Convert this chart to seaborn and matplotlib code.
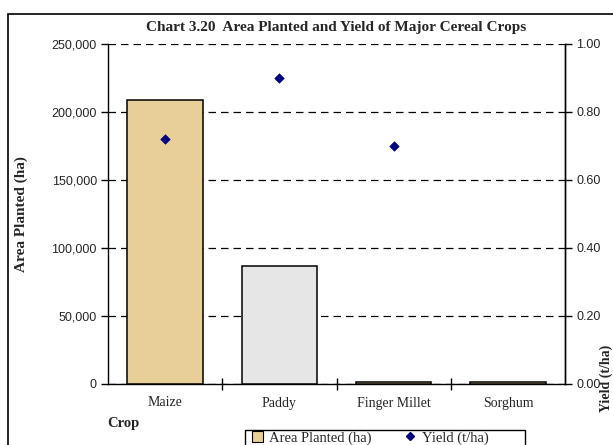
import numpy as np
import pandas as pd
import matplotlib
matplotlib.use("Agg")
import matplotlib.pyplot as plt
from matplotlib.patches import Patch, Rectangle
from matplotlib.lines import Line2D
from matplotlib.ticker import FuncFormatter, MultipleLocator
import seaborn as sns

# ---- data ----
crops = ["Maize", "Paddy", "Finger Millet", "Sorghum"]
area_planted = [209000, 87000, 1500, 1200]
yield_crops = ["Maize", "Paddy", "Finger Millet"]
yield_tha = [0.72, 0.90, 0.70]

title = "Chart 3.20  Area Planted and Yield of Major Cereal Crops"
bar_colors = ["#E8CF98", "#E6E6E6", "#E8CF98", "#E8CF98"]

sns.set_theme(style="white")
plt.rcParams["font.family"] = ["Liberation Sans", "DejaVu Sans"]
serif = ["Liberation Serif", "DejaVu Serif"]

fig = plt.figure(figsize=(6.13, 4.45), dpi=100)
ax = fig.add_axes([108/613, 1-384/445, (565-108)/613, (384-44)/445])

df = pd.DataFrame({"Crop": crops, "Area": area_planted})
sns.barplot(data=df, x="Crop", y="Area", hue="Crop", order=crops,
            palette=dict(zip(crops, bar_colors)), saturation=1, width=0.66,
            edgecolor="black", linewidth=1.1, legend=False, ax=ax, zorder=3)

ax.set_xlim(-0.5, len(crops) - 0.5)
ax.set_ylim(0, 250000)
ax.yaxis.set_major_locator(MultipleLocator(50000))
ax.yaxis.set_major_formatter(FuncFormatter(lambda v, p: f"{int(v):,}"))
ax.yaxis.grid(True, linestyle=(0, (6, 4)), color="black", linewidth=0.9, zorder=1)
ax.set_axisbelow(True)
ax.set_xlabel("")
ax.set_ylabel("")

for side in ["left", "bottom", "right"]:
    ax.spines[side].set_visible(True)
    ax.spines[side].set_color("black")
    ax.spines[side].set_linewidth(1.0)
ax.spines["top"].set_visible(False)

ax.tick_params(axis="y", which="major", direction="out", length=5, width=1,
               color="black", labelsize=9, pad=3, left=True)
ax.set_xticks(range(len(crops)))
ax.set_xticklabels(crops, fontfamily=serif, fontsize=10)
ax.tick_params(axis="x", which="major", length=0, pad=9)
ax.set_xticks(np.arange(0.5, len(crops) - 0.5, 1.0), minor=True)
ax.tick_params(axis="x", which="minor", direction="inout", length=8, width=1,
               color="black", bottom=True)

ax2 = ax.twinx()
ypos = [crops.index(c) for c in yield_crops]
sns.scatterplot(x=ypos, y=yield_tha, marker="D", color="#000080",
                edgecolor="#000080", s=24, ax=ax2, zorder=5, legend=False)
ax2.set_ylim(0, 1.0)
ax2.set_xlim(-0.5, len(crops) - 0.5)
ax2.yaxis.set_major_locator(MultipleLocator(0.2))
ax2.yaxis.set_major_formatter(FuncFormatter(lambda v, p: f"{v:.2f}"))
ax2.tick_params(axis="y", direction="out", length=5, width=1, color="black",
                labelsize=9, pad=3, right=True)
ax2.set_ylabel("")
for side in ["top", "left", "bottom"]:
    ax2.spines[side].set_visible(False)
ax2.spines["right"].set_color("black")
ax2.spines["right"].set_linewidth(1.0)
ax2.grid(False)

# title and labels
fig.text(336/613, 1-27/445, title, ha="center", va="center",
         fontfamily=serif, fontweight="bold", fontsize=11)
fig.text(21/613, 1-214/445, "Area Planted (ha)", rotation=90, ha="center", va="center",
         fontfamily=serif, fontweight="bold", fontsize=11)
fig.text(107/613, 1-424/445, "Crop", ha="left", va="center",
         fontfamily=serif, fontweight="bold", fontsize=10.5)
fig.text(606.5/613, 1-378/445, "Yield (t/ha)", rotation=90, ha="center", va="center",
         fontfamily=serif, fontweight="bold", fontsize=10)

# legend
handles = [Patch(facecolor=bar_colors[0], edgecolor="black", linewidth=0.8),
           Line2D([], [], marker="D", color="#000080", linestyle="none", markersize=4.5)]
leg = fig.legend(handles, ["Area Planted (ha)", "Yield (t/ha)"], ncol=2,
                 loc="center left", bbox_to_anchor=(252/613, 1-438/445),
                 frameon=False, prop={"family": serif, "size": 10.5},
                 handlelength=0.75, handleheight=0.75, handletextpad=0.4,
                 columnspacing=2.3, borderpad=0, borderaxespad=0)
fig.patches.append(Rectangle((245/613, -0.05), 280/613, (445-430)/445 + 0.05,
                             transform=fig.transFigure, fill=False,
                             edgecolor="black", linewidth=1.0))

# outer frame
fig.patches.append(Rectangle((8/613, -0.05), 1.0, (1-14/445) + 0.05,
                             transform=fig.transFigure, fill=False,
                             edgecolor="black", linewidth=1.2))

fig.savefig("out.png", dpi=100)
